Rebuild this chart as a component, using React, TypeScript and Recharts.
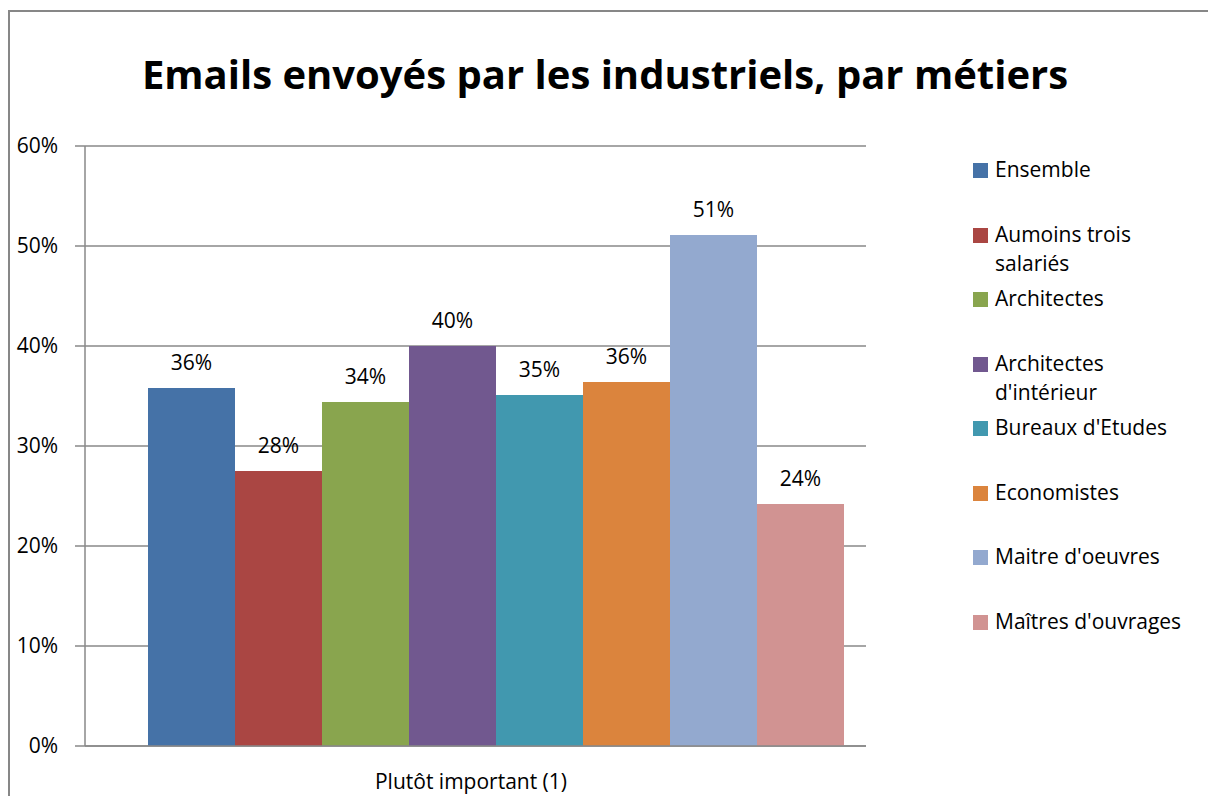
import { Bar, BarChart, CartesianGrid, LabelList, XAxis, YAxis } from "recharts";

const categories = ["Plutôt important (1)"];
const seriesNames = [
  "Ensemble",
  "Aumoins trois salariés",
  "Architectes",
  "Architectes d'intérieur",
  "Bureaux d'Etudes",
  "Economistes",
  "Maitre d'oeuvres",
  "Maîtres d'ouvrages",
];
const seriesValues = [35.8, 27.5, 34.4, 40.0, 35.1, 36.4, 51.1, 24.2];
const seriesColors = [
  "#4572A7",
  "#AA4643",
  "#89A54E",
  "#71588F",
  "#4198AF",
  "#DB843D",
  "#93A9CF",
  "#D19392",
];
const yTicks = [0, 10, 20, 30, 40, 50, 60];

const FONT = "'Open Sans', Lato, sans-serif";
const GRID = "#888888";

const data = categories.map((name) => {
  const row: Record<string, string | number> = { name };
  seriesValues.forEach((v, i) => {
    row["s" + i] = v;
  });
  return row;
});

function ChartLegend() {
  return (
    <div style={{ position: "absolute", left: 973, top: 155, fontFamily: FONT, fontSize: 21, color: "#000" }}>
      {seriesNames.map((name, i) => (
        <div key={name} style={{ position: "relative", height: 64.5 }}>
          <div
            style={{
              position: "absolute",
              left: 0,
              top: 8,
              width: 15,
              height: 15,
              background: seriesColors[i],
            }}
          />
          <div style={{ position: "absolute", left: 22, top: 0, width: 212, lineHeight: "29px" }}>{name}</div>
        </div>
      ))}
    </div>
  );
}

export default function App() {
  return (
    <div style={{ position: "relative", width: 1208, height: 796, overflow: "hidden", background: "#fff" }}>
      <style>{`body{margin:0;overflow:hidden}`}</style>
      <div
        style={{
          position: "absolute",
          left: 8,
          top: 10,
          width: 1300,
          height: 900,
          border: "2px solid #878787",
        }}
      />
      <div
        style={{
          position: "absolute",
          left: 0,
          top: 50,
          width: 1210,
          textAlign: "center",
          fontFamily: FONT,
          fontWeight: 700,
          fontSize: 40,
          lineHeight: "48px",
          color: "#000",
        }}
      >
        Emails envoyés par les industriels, par métiers
      </div>
      <div style={{ position: "absolute", left: 0, top: 0 }}>
        <BarChart
          width={1208}
          height={796}
          data={data}
          margin={{ top: 146, right: 342, bottom: 0, left: 0 }}
          barCategoryGap={22}
          barGap={0}
        >
          <CartesianGrid horizontal vertical={false} stroke={GRID} strokeWidth={1.5} />
          <XAxis
            dataKey="name"
            padding={{ left: 41, right: 0 }}
            axisLine={{ stroke: GRID, strokeWidth: 1.5 }}
            tickLine={false}
            tickMargin={22}
            tick={{ fontSize: 21, fill: "#000", fontFamily: FONT, dx: -25 }}
            height={50}
          />
          <YAxis
            domain={[0, 60]}
            ticks={yTicks}
            tickFormatter={(v) => `${v}%`}
            axisLine={{ stroke: GRID, strokeWidth: 1.5 }}
            tickLine={{ stroke: GRID, strokeWidth: 1.5 }}
            tickSize={10}
            tickMargin={17}
            width={85}
            tick={{ fontSize: 21, fill: "#000", fontFamily: FONT }}
          />
          {seriesNames.map((name, i) => (
            <Bar key={name} dataKey={"s" + i} name={name} fill={seriesColors[i]} isAnimationActive={false}>
              <LabelList
                dataKey={"s" + i}
                position="top"
                offset={18}
                formatter={(v: number) => `${Math.round(v)}%`}
                style={{ fontSize: 21, fill: "#000", fontFamily: FONT }}
              />
            </Bar>
          ))}
        </BarChart>
      </div>
      <ChartLegend />
    </div>
  );
}
